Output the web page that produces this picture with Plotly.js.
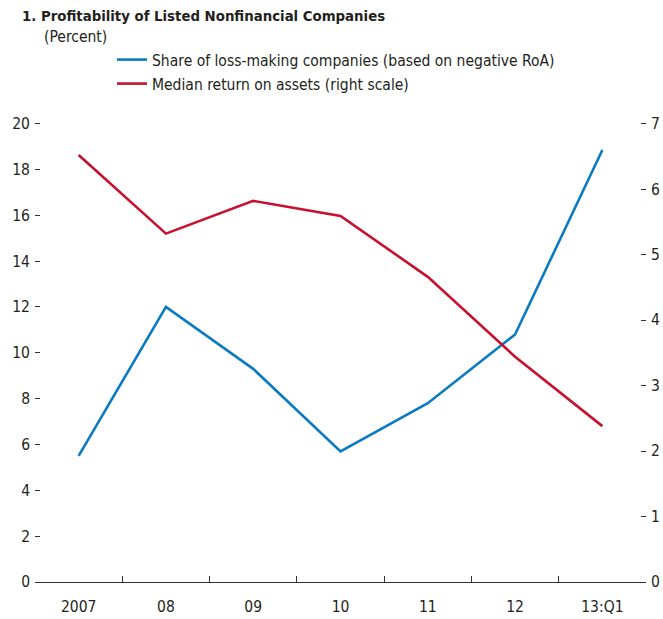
<!DOCTYPE html>
<html><head><meta charset="utf-8">
<script src="https://cdn.plot.ly/plotly-3.0.1.min.js"></script>
<style>html,body{margin:0;padding:0;background:#fff}</style>
</head><body><div id="chart" style="width:663px;height:619px"></div>
<script>
const categories = ["2007", "08", "09", "10", "11", "12", "13:Q1"];
const lossShare = [5.5, 12.0, 9.3, 5.7, 7.8, 10.8, 18.85];
const medianRoA = [6.52, 5.32, 5.82, 5.59, 4.66, 3.44, 2.38];
const leftTickVals = [0, 2, 4, 6, 8, 10, 12, 14, 16, 18, 20];
const rightTickVals = [0, 1, 2, 3, 4, 5, 6, 7];
const seriesNames = ["Share of loss-making companies (based on negative RoA)", "Median return on assets (right scale)"];
const titleText = "1. Profitability of Listed Nonfinancial Companies";
const subtitleText = "(Percent)";

const FONT = "'DejaVu Sans Condensed', 'Liberation Sans', sans-serif";
const INK = "#231f20";
const W = 663, H = 619;
const FS = 15.5;

// layout geometry: value 0 at y=582, top tick at y=124; range padded slightly so top ticks are drawn
const BOTTOM = 37, PLOT_TOP_TICK = 124;
const PAD = 1.01;
const plotH = (H - BOTTOM - PLOT_TOP_TICK) * PAD;
const TOP = H - BOTTOM - plotH;
const plotW = W - 35 - 17;

const traces = [
  {x: categories, y: lossShare, name: seriesNames[0], type: "scatter", mode: "lines",
   line: {color: "#0a7bc2", width: 2.6}, yaxis: "y", legend: "legend", hoverinfo: "skip"},
  {x: categories, y: medianRoA, name: seriesNames[1], type: "scatter", mode: "lines",
   line: {color: "#c8102e", width: 2.6}, yaxis: "y2", legend: "legend2", hoverinfo: "skip"}
];

const legendCommon = {
  xref: "container", yref: "container", xanchor: "left", yanchor: "middle",
  font: {family: FONT, size: FS, color: INK}, bgcolor: "rgba(0,0,0,0)", borderwidth: 0
};

const layout = {
  width: W, height: H,
  margin: {l: 35, r: 17, t: TOP, b: BOTTOM, autoexpand: false},
  paper_bgcolor: "#fff", plot_bgcolor: "#fff",
  font: {family: FONT, size: FS, color: INK},
  title: {text: "<b>" + titleText + "</b>", xref: "container", yref: "container",
          x: 22 / W, xanchor: "left", y: 1 - 16 / H, yanchor: "middle",
          font: {family: FONT, size: 14.8, color: INK}},
  showlegend: true,
  legend: Object.assign({}, legendCommon, {x: 112 / W, y: 1 - 60 / H}),
  legend2: Object.assign({}, legendCommon, {x: 112 / W, y: 1 - 84 / H}),
  annotations: [
    {text: subtitleText, xref: "paper", yref: "paper", x: (42 - 35) / plotW, xanchor: "left",
     y: (H - BOTTOM - 37) / plotH, yanchor: "middle", showarrow: false,
     font: {family: FONT, size: FS, color: INK}}
  ],
  xaxis: {type: "category", range: [-0.5, 6.5], tickson: "boundaries", ticks: "inside",
          ticklen: 6, tickwidth: 1, tickcolor: "#333", showline: true, linecolor: "#333",
          linewidth: 1, showgrid: false, zeroline: false, ticklabelstandoff: 10,
          tickfont: {family: FONT, size: FS, color: INK}, fixedrange: true},
  yaxis: {range: [0, 20 * PAD], tickvals: leftTickVals, ticks: "inside", ticklen: 5, tickwidth: 1,
          tickcolor: "#333", showline: false, showgrid: false, zeroline: false,
          ticklabelstandoff: 4, tickfont: {family: FONT, size: FS, color: INK}, fixedrange: true},
  yaxis2: {range: [0, 7 * PAD], tickvals: rightTickVals, overlaying: "y", side: "right", ticks: "inside",
           ticklen: 5, tickwidth: 1, tickcolor: "#333", showline: false, showgrid: false,
           zeroline: false, ticklabelstandoff: 4,
           tickfont: {family: FONT, size: FS, color: INK}, fixedrange: true}
};

Plotly.newPlot("chart", traces, layout, {staticPlot: true, displayModeBar: false});
</script>
</body></html>
